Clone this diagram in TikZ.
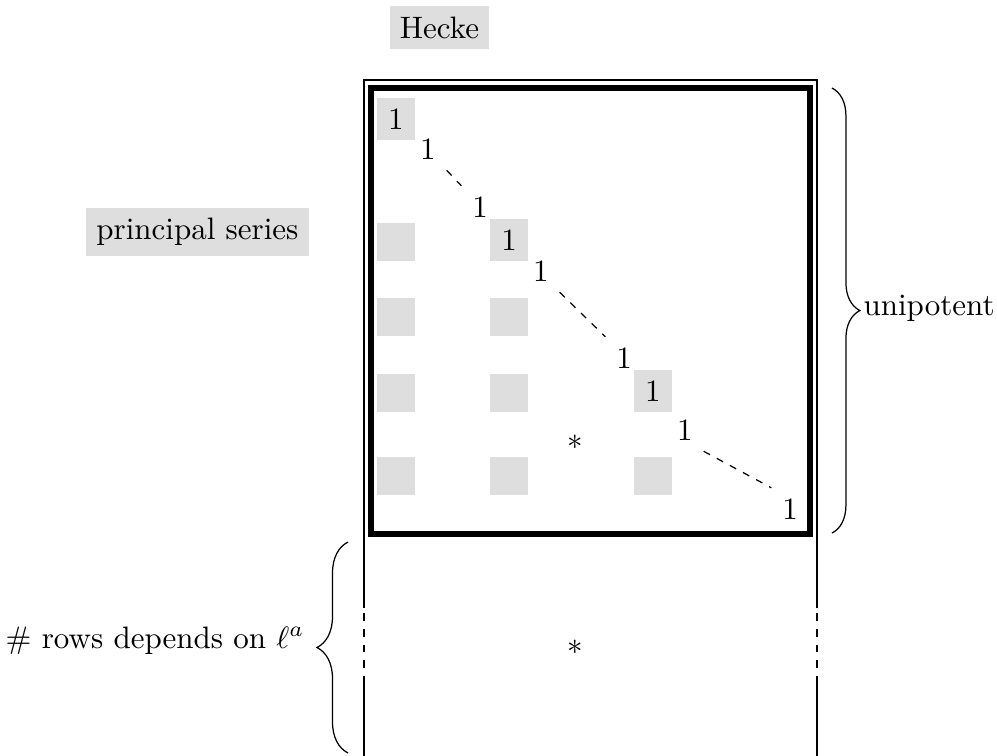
\documentclass[tikz,border=0pt]{standalone}
\usepackage{amsmath, amssymb}
\usepackage{xcolor}
\usepackage{tikz}
\usetikzlibrary{decorations.pathreplacing}
\definecolor{cellgray}{gray}{0.87}

\begin{document}
\begin{tikzpicture}[
    cell/.style={fill=cellgray, minimum size=12pt},
    dashes/.style={dash pattern=on 2.3pt off 2.5pt},
    gapdash/.style={dash pattern=on 2.5pt off 2.6pt, dash phase=3.5pt},
    brc/.style={decorate, decoration={brace, amplitude=#1}}]
    \useasboundingbox (0,0) rectangle (11.305,-8.572);
    % thin outer frame, open at the bottom
    \coordinate (fbl) at (4.127,-8.572);
    \coordinate (fgl1) at (4.127,-7.688);
    \coordinate (fgl2) at (4.127,-6.894);
    \coordinate (ftl) at (4.127,-0.907);
    \coordinate (ftr) at (9.264,-0.907);
    \coordinate (fgr2) at (9.264,-6.894);
    \coordinate (fgr1) at (9.264,-7.688);
    \coordinate (fbr) at (9.264,-8.572);
    \draw (fbl) -- (fgl1);
    \draw [gapdash] (fgl2) -- (fgl1);
    \draw (fgl2) -- (ftl) -- (ftr) -- (fgr2);
    \draw [gapdash] (fgr2) -- (fgr1);
    \draw (fgr1) -- (fbr);
    % thick block
    \coordinate (btl) at (4.207,-0.998);
    \coordinate (bbr) at (9.185,-6.055);
    \draw [line width=2pt] (btl) rectangle (bbr);
    % diagonal
    \node [cell] (a1) at (4.490,-1.349) {1};
    \node (a2) at (4.853,-1.690) {1};
    \node (a3) at (5.443,-2.347) {1};
    \node [cell] (a4) at (5.772,-2.721) {1};
    \node (a5) at (6.134,-3.073) {1};
    \node (a6) at (7.076,-4.059) {1};
    \node [cell] (a7) at (7.404,-4.434) {1};
    \node (a8) at (7.767,-4.876) {1};
    \node (a9) at (8.958,-5.772) {1};
    \draw [dashes] (a2.south east) -- (a3.north west);
    \draw [dashes] (a5.south east) -- (a6.north west);
    \draw [dashes] (a8.south east) -- (a9.north west);
    % grey blocks below the diagonal
    \node [cell] (e21) at (4.490,-2.744) {};
    \node [cell] (e31) at (4.490,-3.595) {};
    \node [cell] (e41) at (4.490,-4.456) {};
    \node [cell] (e51) at (4.490,-5.397) {};
    \node [cell] (e32) at (5.772,-3.595) {};
    \node [cell] (e42) at (5.772,-4.456) {};
    \node [cell] (e52) at (5.772,-5.397) {};
    \node [cell] (e53) at (7.404,-5.397) {};
    \node (s1) at (6.520,-5.020) {$*$};
    \node (s2) at (6.520,-7.336) {$*$};
    % labels
    \node [fill=cellgray] (hecke) at (4.984,-0.312) {Hecke};
    \node [fill=cellgray] (ps) at (2.239,-2.631) {principal series};
    \coordinate (ub1) at (9.434,-0.998);
    \coordinate (ub2) at (9.434,-6.044);
    \draw [brc=9pt] (ub1) -- (ub2);
    \node [anchor=base west, inner sep=0] (uni) at (9.786,-3.572) {unipotent};
    \coordinate (lb1) at (3.946,-8.538);
    \coordinate (lb2) at (3.946,-6.146);
    \draw [brc=10pt] (lb1) -- (lb2);
    \node [anchor=base east, inner sep=0] (rows) at (3.458,-7.348) {\# rows depends on $\ell^a$};
\end{tikzpicture}
\end{document}
